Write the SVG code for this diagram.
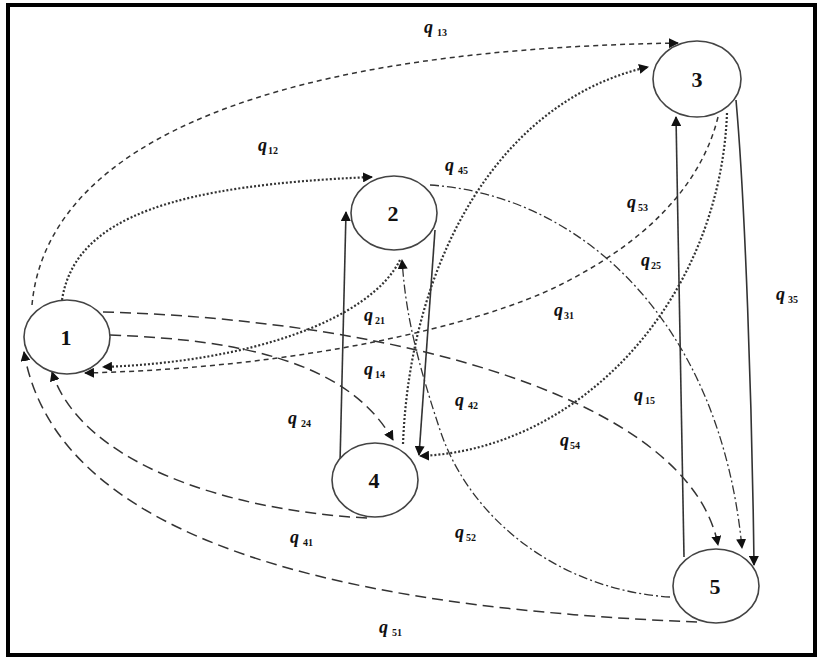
<svg xmlns="http://www.w3.org/2000/svg" width="823" height="660" viewBox="0 0 823 660">
<defs>
<marker id="ah" viewBox="0 0 10 10" refX="9" refY="5" markerWidth="10" markerHeight="10" markerUnits="userSpaceOnUse" orient="auto">
<path d="M0,0 L10,5 L0,10 Z" fill="#111"/>
</marker>
<style>
.node ellipse{fill:#fff;stroke:#444;stroke-width:1.6}
.node text{font-family:"Liberation Serif","Times New Roman",serif;font-weight:bold;font-size:22px;text-anchor:middle;fill:#111}
.e{fill:none;stroke:#333;marker-end:url(#ah)}
.sd{stroke-width:1.5;stroke-dasharray:5 4}
.dt{stroke-width:2.2;stroke-dasharray:2 2}
.ld{stroke-width:1.5;stroke-dasharray:11 6}
.dd{stroke-width:1.3;stroke-dasharray:9 3 2 3}
.so{stroke-width:1.6}
.lbl{font-family:"Liberation Serif","Times New Roman",serif;font-weight:bold;font-style:italic;font-size:18px;fill:#111}
.lbl tspan{font-size:10px;font-style:normal}
</style>
</defs>
<rect x="8" y="5" width="807" height="650" fill="#fff" stroke="#000" stroke-width="4"/>
<g id="connectors">
<path class="e sd" d="M32,305 C45,160 230,50 678,43"/>
<path class="e sd" d="M718,117 C700,190 640,245 560,285 S300,368 85,373"/>
<path class="e dt" d="M62,300 C75,215 180,185 372,177"/>
<path class="e dt" d="M400,260 C370,320 250,362 103,367"/>
<path class="e dt" d="M403,444 C410,260 500,100 648,67"/>
<path class="e dt" d="M727,113 C720,300 580,450 420,456"/>
<path class="e ld" d="M110,335 C250,340 350,365 393,440"/>
<path class="e ld" d="M103,312 C400,320 690,400 718,545"/>
<path class="e ld" d="M367,518 C220,510 80,460 52,372"/>
<path class="e ld" d="M697,622 C400,610 60,560 24,352"/>
<path class="e dd" d="M430,185 C580,195 720,320 742,548"/>
<path class="e dd" d="M670,597 C560,590 470,520 440,430 S405,300 402,260"/>
<path class="e so" d="M340,463 L346,212"/>
<path class="e so" d="M435,230 L419,455"/>
<path class="e so" d="M684,557 L676,117"/>
<path class="e so" d="M736,100 C745,200 752,400 754,565"/>
</g>
<g id="node1" class="node"><ellipse cx="67" cy="337" rx="43" ry="37"/><text x="66" y="345">1</text></g>
<g id="node2" class="node"><ellipse cx="394" cy="213" rx="43" ry="37"/><text x="393" y="221">2</text></g>
<g id="node3" class="node"><ellipse cx="697" cy="79" rx="44" ry="38"/><text x="697" y="87">3</text></g>
<g id="node4" class="node"><ellipse cx="375" cy="480" rx="43" ry="37"/><text x="374" y="488">4</text></g>
<g id="node5" class="node"><ellipse cx="716" cy="586" rx="43" ry="37"/><text x="715" y="594">5</text></g>
<g id="labels">
<text class="lbl" x="424" y="33">q<tspan dx="4" dy="3">13</tspan></text>
<text class="lbl" x="258" y="151">q<tspan dx="1" dy="3">12</tspan></text>
<text class="lbl" x="445" y="171">q<tspan dx="4" dy="3">45</tspan></text>
<text class="lbl" x="627" y="208">q<tspan dx="2" dy="3">53</tspan></text>
<text class="lbl" x="641" y="266">q<tspan dx="1" dy="3">25</tspan></text>
<text class="lbl" x="554" y="316">q<tspan dx="1" dy="3">31</tspan></text>
<text class="lbl" x="776" y="300">q<tspan dx="3" dy="3">35</tspan></text>
<text class="lbl" x="634" y="401">q<tspan dx="2" dy="3">15</tspan></text>
<text class="lbl" x="560" y="446">q<tspan dx="1" dy="3">54</tspan></text>
<text class="lbl" x="364" y="321">q<tspan dx="2" dy="3">21</tspan></text>
<text class="lbl" x="364" y="375">q<tspan dx="2" dy="3">14</tspan></text>
<text class="lbl" x="455" y="406">q<tspan dx="4" dy="3">42</tspan></text>
<text class="lbl" x="288" y="424">q<tspan dx="4" dy="3">24</tspan></text>
<text class="lbl" x="290" y="543">q<tspan dx="4" dy="3">41</tspan></text>
<text class="lbl" x="455" y="538">q<tspan dx="2" dy="3">52</tspan></text>
<text class="lbl" x="379" y="633">q<tspan dx="4" dy="3">51</tspan></text>
</g>
</svg>
